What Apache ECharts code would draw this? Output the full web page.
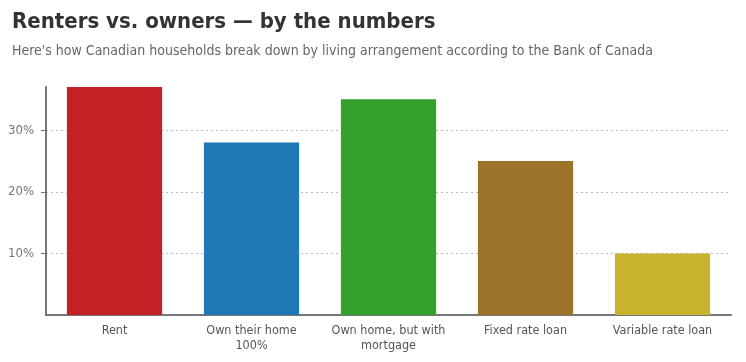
<!DOCTYPE html>
<html><head><meta charset="utf-8">
<script src="https://cdn.jsdelivr.net/npm/echarts@6/dist/echarts.min.js"></script>
<style>html,body{margin:0;padding:0;background:#fff}#c{width:746px;height:362px}</style>
</head><body><div id="c"></div>
<script>
const categories = ["Rent", "Own their home\n100%", "Own home, but with\nmortgage", "Fixed rate loan", "Variable rate loan"];
const values = [37, 28, 35, 25, 10];
const colors = ["#c42127", "#1f77b4", "#33a02c", "#9c732a", "#c7b32e"];
const FONT = '"DejaVu Sans Condensed", sans-serif';
const chart = echarts.init(document.getElementById('c'), null, {renderer: 'canvas'});
chart.setOption({
  animation: false,
  title: {
    text: 'Renters vs. owners \u2014 by the numbers',
    subtext: "Here's how Canadian households break down by living arrangement according to the Bank of Canada",
    left: 7, top: 6, itemGap: 11,
    textStyle: {fontFamily: FONT, fontSize: 22, fontWeight: 'bold', color: '#333'},
    subtextStyle: {fontFamily: FONT, fontSize: 14, color: '#666'}
  },
  grid: {left: 46, right: 15, top: 87, bottom: 47, containLabel: false},
  xAxis: {
    type: 'category', data: categories,
    axisLine: {lineStyle: {color: '#777', width: 2}},
    axisTick: {show: false},
    axisLabel: {fontFamily: FONT, fontSize: 12.5, color: '#555', margin: 8, lineHeight: 15, interval: 0}
  },
  yAxis: {
    type: 'value', min: 0, max: 37, interval: 10,
    axisLine: {show: true, lineStyle: {color: '#777', width: 2}},
    axisTick: {show: true, length: 5, lineStyle: {color: '#777'}},
    axisLabel: {fontFamily: FONT, fontSize: 13, color: '#777', margin: 12, showMinLabel: false, showMaxLabel: false,
      formatter: v => v + '%'},
    splitLine: {show: true, showMinLine: false, showMaxLine: false, lineStyle: {color: '#bbbbbb', type: [2, 3], width: 1}}
  },
  series: [{
    type: 'bar',
    data: values.map((v, i) => ({value: v, itemStyle: {color: colors[i]}})),
    barCategoryGap: '30.5%'
  }]
});
</script></body></html>
